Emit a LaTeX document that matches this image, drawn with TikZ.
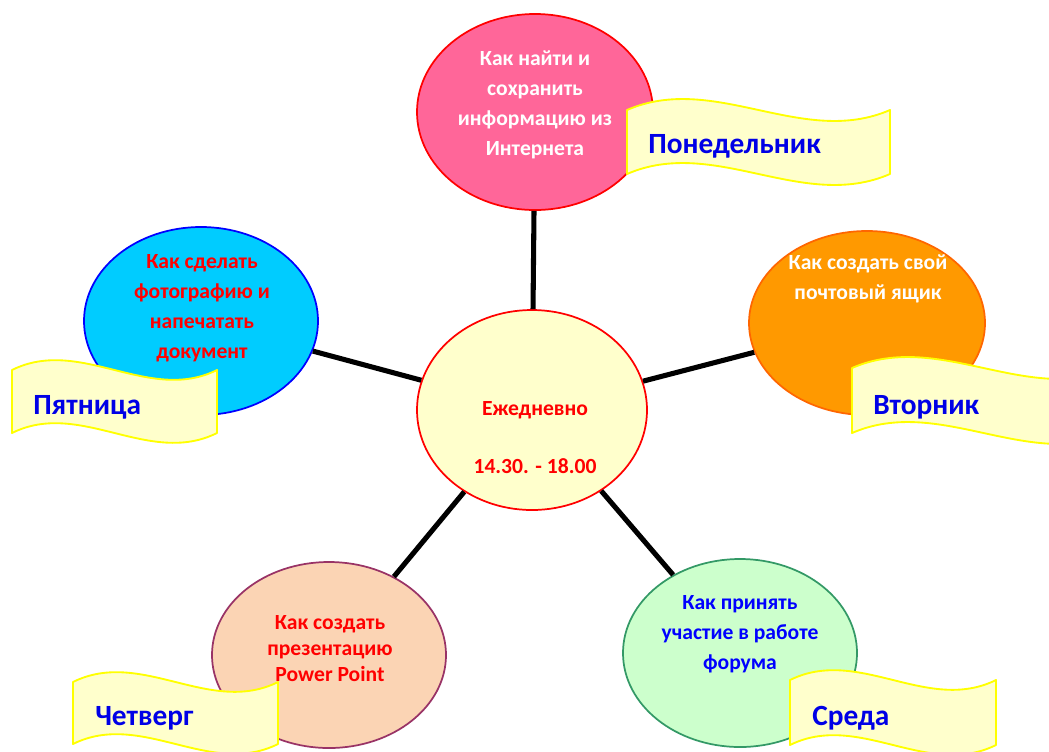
\documentclass[tikz,border=0pt]{standalone}
\usepackage{fontspec}
\setmainfont{Carlito}
\usetikzlibrary{shapes.geometric}
\definecolor{pinkfill}{HTML}{FF6699}
\definecolor{orangefill}{HTML}{FF9900}
\definecolor{orangeline}{HTML}{FF6600}
\definecolor{bluefill}{HTML}{00CCFF}
\definecolor{peachfill}{HTML}{FBD4B4}
\definecolor{peachline}{HTML}{993366}
\definecolor{greenfill}{HTML}{CCFFCC}
\definecolor{greenline}{HTML}{339966}
\definecolor{centerfill}{HTML}{FFFFCC}
\definecolor{bannerfill}{HTML}{FFFFCC}
\definecolor{bannerline}{HTML}{FFFF00}
\definecolor{daytext}{HTML}{0000E6}
\tikzset{
  bubble/.style={ellipse, draw, line width=1.3pt, inner sep=0pt},
  link/.style={line width=3.8pt, black},
  banner/.style={draw=bannerline, fill=bannerfill, line width=1.4pt, line join=round},
  txt/.style={font=\fontsize{16.2}{22.5}\selectfont\bfseries, align=center, inner sep=0pt},
  daylabel/.style={font=\fontsize{22}{26}\selectfont\bfseries, text=daytext, anchor=west, inner sep=0pt},
}
\newcommand\wavebanner[5]{%
  \draw[banner] (#1,#2) .. controls ({#1+#3/3},{#2-#5}) and ({#1+2*#3/3},{#2+#5}) .. ({#1+#3},#2)
    -- ({#1+#3},{#2+#4}) .. controls ({#1+2*#3/3},{#2+#4+#5}) and ({#1+#3/3},{#2+#4-#5}) .. (#1,{#2+#4}) -- cycle;}
\begin{document}
\begin{tikzpicture}[x=0.75pt,y=-0.75pt]
\useasboundingbox[fill=white] (0,0) rectangle (1049,751);
% bubbles
\node[bubble, draw=red, fill=centerfill, minimum width={230*0.75pt}, minimum height={200*0.75pt}] (center) at (532,410) {};
\node[bubble, draw=red, fill=pinkfill, minimum width={236*0.75pt}, minimum height={196*0.75pt}] (mon) at (535,112) {};
\node[bubble, draw=orangeline, fill=orangefill, minimum width={236*0.75pt}, minimum height={184*0.75pt}] (tue) at (867,323) {};
\node[bubble, draw=blue, fill=bluefill, minimum width={234*0.75pt}, minimum height={188*0.75pt}] (fri) at (201,321) {};
\node[bubble, draw=peachline, fill=peachfill, minimum width={234*0.75pt}, minimum height={186*0.75pt}] (thu) at (329,655) {};
\node[bubble, draw=greenline, fill=greenfill, minimum width={234*0.75pt}, minimum height={188*0.75pt}] (wed) at (740,653) {};
% connectors
\draw[link] (mon) -- (center);
\draw[link] (fri) -- (center);
\draw[link] (tue) -- (center);
\draw[link] (thu) -- (center);
\draw[link] (wed) -- (center);
% texts in bubbles
\node[txt, text=red] (centertxt1) at (535,410) {Ежедневно};
\node[txt, text=red] (centertxt2) at (535,466) {14.30. - 18.00};
\node[txt, text=white, anchor=north] (montxt) at (535,50) {Как найти и\\сохранить\\информацию из\\Интернета};
\node[txt, text=white, anchor=north] (tuetxt) at (868,254) {Как создать свой\\почтовый ящик};
\node[txt, text=red, anchor=north] (fritxt) at (202,254) {Как сделать\\фотографию и\\напечатать\\документ};
\node[txt, text=red, anchor=north, font=\fontsize{16.2}{19.5}\selectfont\bfseries] (thutxt) at (330,615) {Как создать\\презентацию\\Power Point};
\node[txt, text=blue, anchor=north] (wedtxt) at (740,595) {Как принять\\участие в работе\\форума};
% banners
\wavebanner{627}{110}{263}{64}{38}
\node[daylabel] (monlbl) at (648,146) {Понедельник};
\wavebanner{852}{368}{263}{65}{38}
\node[daylabel] (tuelbl) at (873,407) {Вторник};
\wavebanner{12}{370}{205}{63}{34}
\node[daylabel] (frilbl) at (33,407) {Пятница};
\wavebanner{73}{682}{205}{62}{34}
\node[daylabel] (thulbl) at (95,718) {Четверг};
\wavebanner{790}{680}{206}{65}{34}
\node[daylabel] (wedlbl) at (812,718) {Среда};
\end{tikzpicture}
\end{document}
